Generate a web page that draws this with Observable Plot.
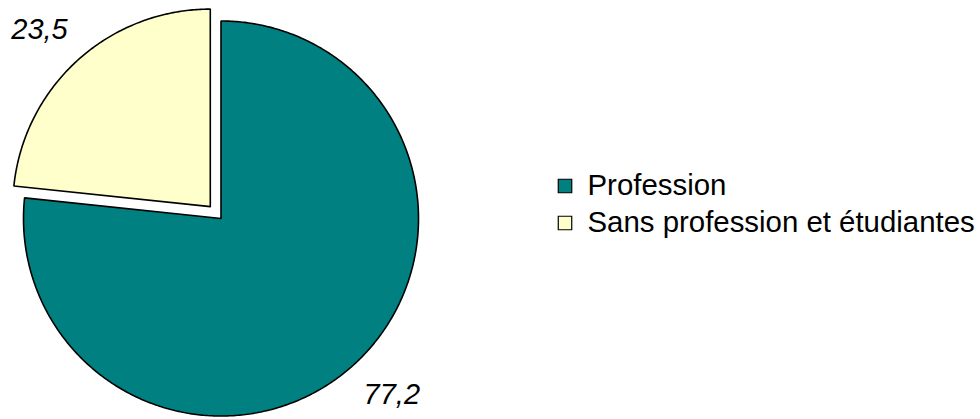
<!DOCTYPE html>
<html>
<head>
<meta charset="utf-8">
<script src="https://cdn.jsdelivr.net/npm/d3@7"></script>
<script src="https://cdn.jsdelivr.net/npm/@observablehq/plot@0.6"></script>
<style>
  html, body { margin: 0; padding: 0; background: #fff; }
</style>
</head>
<body>
<div id="chart"></div>
<script>
const categories = ["Profession", "Sans profession et étudiantes"];
const values = [77.2, 23.5];
const valueLabels = ["77,2", "23,5"];
const colors = ["#008080", "#FFFFCC"];

const W = 980, H = 419;
const cx = 220.5, cy = 218, R = 197.5;
const explode = [0, 16];
const labelPad = 29.5;
const labelFont = 29;
const FONT = "'Liberation Sans', Arial, sans-serif";

const ctx = document.createElement("canvas").getContext("2d");
ctx.font = `italic ${labelFont}px ${FONT}`;

const pie = d3.pie().sort(null).startAngle(0).endAngle(2 * Math.PI)(values);

const polys = [];
const labels = [];
pie.forEach((p, i) => {
  const mid = (p.startAngle + p.endAngle) / 2;
  const sx = Math.sin(mid), sy = -Math.cos(mid);
  const ox = cx + explode[i] * sx;
  const oy = cy + explode[i] * sy;
  polys.push({cat: categories[i], x: ox, y: oy});
  const n = Math.max(2, Math.ceil((p.endAngle - p.startAngle) / 0.01));
  for (let j = 0; j <= n; j++) {
    const a = p.startAngle + (p.endAngle - p.startAngle) * j / n;
    polys.push({cat: categories[i], x: ox + R * Math.sin(a), y: oy - R * Math.cos(a)});
  }
  polys.push({cat: categories[i], x: ox, y: oy});
  const halfW = ctx.measureText(valueLabels[i]).width / 2;
  const halfH = labelFont * 0.72 / 2;
  labels.push({
    text: valueLabels[i],
    x: ox + (R + labelPad) * sx + sx * halfW,
    y: oy + (R + labelPad) * sy + sy * halfH
  });
});

const legendX = 564.5, legendY0 = 185.5, legendStep = 37;
const legend = categories.map((c, i) => ({cat: c, x: legendX, y: legendY0 + i * legendStep}));

const chart = Plot.plot({
  width: W, height: H,
  margin: 0,
  x: {type: "identity", axis: null},
  y: {type: "identity", axis: null},
  color: {domain: categories, range: colors},
  style: {fontFamily: FONT, background: "#fff"},
  marks: [
    Plot.line(polys, {x: "x", y: "y", z: "cat", fill: "cat", stroke: "black", strokeWidth: 1.6, curve: "linear", strokeLinejoin: "miter"}),
    Plot.text(labels, {x: "x", y: "y", text: "text", fontSize: labelFont, fontStyle: "italic", fill: "black", textAnchor: "middle", lineAnchor: "middle"}),
    Plot.dot(legend, {x: "x", y: "y", symbol: "square", r: 7.6, fill: "cat", stroke: "black", strokeWidth: 1.2}),
    Plot.text(legend, {x: d => d.x + 22.5, y: "y", text: "cat", fontSize: 29.4, fill: "black", textAnchor: "start", lineAnchor: "middle"})
  ]
});
document.getElementById("chart").appendChild(chart);
</script>
</body>
</html>
